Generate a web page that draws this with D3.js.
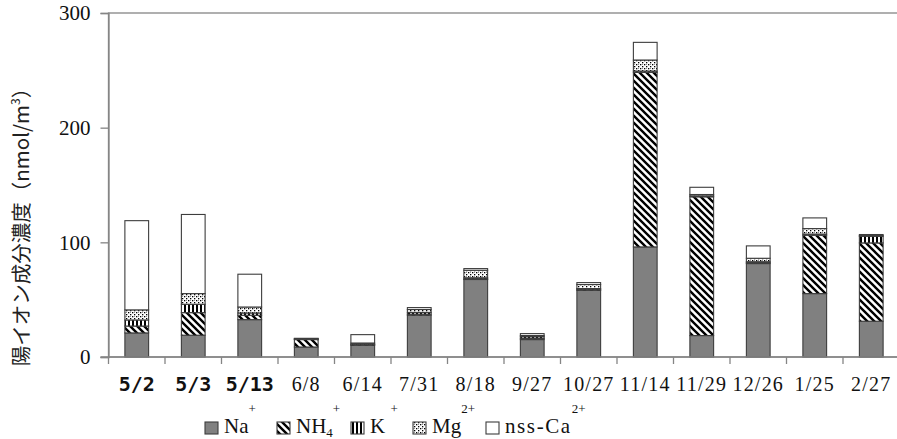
<!DOCTYPE html>
<html>
<head>
<meta charset="utf-8">
<script src="https://cdn.jsdelivr.net/npm/d3@7"></script>
<style>
  html, body { margin: 0; padding: 0; background: #fff; }
  svg { display: block; }
  svg text.serif { font-family: "Times New Roman", "Liberation Serif", Tinos, "DejaVu Serif", "Noto Serif", serif !important; }
</style>
</head>
<body>
<svg id="chart" width="897" height="439"></svg>
<script>
// Sampling dates (first three shown in bold)
const dates = ["5/2", "5/3", "5/13", "6/8", "6/14", "7/31", "8/18", "9/27", "10/27", "11/14", "11/29", "12/26", "1/25", "2/27"];
const boldDates = ["5/2", "5/3", "5/13"];

// Cation concentrations (nmol/m3), stacked bottom to top
const na  = [21.0, 19.0, 32.6, 8.7, 10.2, 36.4, 67.6, 15.2, 58.2, 96.0, 18.7, 81.5, 55.3, 31.2];
const nh4 = [6.0, 19.7, 3.8, 6.5, 0.5, 1.0, 0.5, 1.0, 0.5, 152.2, 121.0, 0.8, 50.9, 68.3];
const k   = [5.3, 7.3, 2.0, 0.4, 0.5, 1.5, 1.0, 1.5, 1.0, 1.2, 0.8, 0.8, 1.0, 5.8];
const mg  = [8.8, 9.3, 5.2, 0.4, 1.0, 2.5, 6.5, 1.0, 3.5, 9.6, 1.2, 3.0, 4.8, 0.5];
const ca  = [77.8, 69.0, 28.6, 0.3, 7.3, 1.7, 1.5, 1.7, 1.7, 15.4, 6.3, 10.8, 9.3, 1.0];

const yTicks = [0, 100, 200, 300];

const seriesKeys = ["na", "nh4", "k", "mg", "ca"];
const seriesData = { na, nh4, k, mg, ca };

const svg = d3.select("#chart");
const margin = { left: 108.5, top: 13, bottom: 357 };
const plotRight = 108.5 + 14 * 56.5;

const axisColor = "#858585";
const barStroke = "#3d3d3d";
const serifStack = '"Times New Roman", "Liberation Serif", Tinos, "DejaVu Serif", serif';

// Fill patterns
const defs = svg.append("defs");
const pDiag = defs.append("pattern").attr("id", "p-nh4").attr("patternUnits", "userSpaceOnUse")
  .attr("width", 7).attr("height", 7);
pDiag.append("rect").attr("width", 7).attr("height", 7).attr("fill", "#fff");
pDiag.append("path").attr("d", "M-2,-2 L9,9 M-9,-2 L2,9 M5,-2 L16,9")
  .attr("stroke", "#000").attr("stroke-width", 2.4);

const pVert = defs.append("pattern").attr("id", "p-k").attr("patternUnits", "userSpaceOnUse")
  .attr("width", 4).attr("height", 4);
pVert.append("rect").attr("width", 4).attr("height", 4).attr("fill", "#fff");
pVert.append("rect").attr("x", 0).attr("width", 2).attr("height", 4).attr("fill", "#000");

const pDot = defs.append("pattern").attr("id", "p-mg").attr("patternUnits", "userSpaceOnUse")
  .attr("width", 4).attr("height", 4);
pDot.append("rect").attr("width", 4).attr("height", 4).attr("fill", "#fff");
pDot.append("rect").attr("x", 0).attr("y", 0).attr("width", 1.3).attr("height", 1.3).attr("fill", "#000");
pDot.append("rect").attr("x", 2).attr("y", 2).attr("width", 1.3).attr("height", 1.3).attr("fill", "#000");
pDot.append("rect").attr("x", 2).attr("y", 0).attr("width", 0.8).attr("height", 0.8).attr("fill", "#555");

const fills = { na: "#808080", nh4: "url(#p-nh4)", k: "url(#p-k)", mg: "url(#p-mg)", ca: "#fff" };

// Scales
const x = d3.scaleBand().domain(dates).range([margin.left, plotRight]).paddingInner(0.58).paddingOuter(0.29);
const xEdge = d3.scaleBand().domain(dates).range([margin.left, plotRight]).padding(0);
const y = d3.scaleLinear().domain([0, 300]).range([margin.bottom, margin.top]);

// Plot frame (top and right edges)
svg.append("rect")
  .attr("x", margin.left).attr("y", y(300))
  .attr("width", plotRight - margin.left).attr("height", y(0) - y(300))
  .attr("fill", "none").attr("stroke", axisColor).attr("stroke-width", 1.3);

// Stacked bars
const rows = dates.map((d, i) => {
  const r = { date: d };
  seriesKeys.forEach(s => r[s] = seriesData[s][i]);
  return r;
});
const stacked = d3.stack().keys(seriesKeys)(rows);

svg.append("g").selectAll("g").data(stacked).join("g")
  .attr("fill", s => fills[s.key])
  .selectAll("rect").data(s => s).join("rect")
  .attr("x", d => x(d.data.date))
  .attr("width", x.bandwidth())
  .attr("y", d => y(d[1]))
  .attr("height", d => y(d[0]) - y(d[1]))
  .attr("stroke", barStroke).attr("stroke-width", 1.1);

// Y axis
const yAxis = svg.append("g").attr("transform", `translate(${margin.left},0)`)
  .call(d3.axisLeft(y).tickValues(yTicks).tickSize(8).tickPadding(10).tickFormat(d3.format("d")));
yAxis.attr("font-family", serifStack);
yAxis.select(".domain").attr("stroke", axisColor).attr("stroke-width", 1.3);
yAxis.selectAll(".tick line").attr("stroke", axisColor).attr("stroke-width", 1.3);
yAxis.selectAll(".tick text").attr("class", "serif").style("font-family", serifStack)
  .attr("font-size", 21).attr("fill", "#111");

// X axis line and boundary ticks
svg.append("line")
  .attr("x1", margin.left - 8).attr("x2", plotRight)
  .attr("y1", y(0)).attr("y2", y(0))
  .attr("stroke", axisColor).attr("stroke-width", 1.3);
svg.append("g").selectAll("line").data(dates).join("line")
  .attr("x1", d => xEdge(d)).attr("x2", d => xEdge(d))
  .attr("y1", y(0)).attr("y2", y(0) + 7)
  .attr("stroke", axisColor).attr("stroke-width", 1.3);

// X labels
svg.append("g").selectAll("text").data(dates).join("text")
  .attr("x", d => x(d) + x.bandwidth() / 2)
  .attr("y", 391)
  .attr("text-anchor", "middle")
  .attr("fill", "#111")
  .each(function (d) {
    const t = d3.select(this);
    if (boldDates.includes(d)) {
      t.attr("font-family", "'DejaVu Sans Mono', monospace").attr("font-weight", "bold")
        .attr("font-size", 20).text(d);
    } else {
      t.attr("class", "serif").style("font-family", serifStack)
        .attr("font-size", 20).attr("letter-spacing", 1.2).text(d);
    }
  });

// Y axis title
const yTitle = svg.append("text")
  .attr("transform", "translate(29,222) rotate(-90)")
  .attr("text-anchor", "middle")
  .attr("font-family", "'Noto Sans CJK JP', sans-serif")
  .attr("font-size", 20.5)
  .attr("fill", "#222");
yTitle.append("tspan").text("陽イオン成分濃度（nmol/m");
yTitle.append("tspan").attr("font-size", 12).attr("dy", -9).text("3");
yTitle.append("tspan").attr("dy", 9).text("）");

// Legend
const legendItems = [
  { key: "na",  x: 205, parts: [["Na", 0], ["+", -1]] },
  { key: "nh4", x: 277, parts: [["NH", 0], ["4", 1], ["+", -1]] },
  { key: "k",   x: 351, parts: [["K ", 0], ["+", -1]] },
  { key: "mg",  x: 413, parts: [["Mg", 0], ["2+", -1]] },
  { key: "ca",  x: 486, parts: [["nss-Ca", 0], ["2+", -1]] }
];
const shift = { "-1": -20, "0": 0, "1": 4 };
const legend = svg.append("g");
legendItems.forEach(it => {
  legend.append("rect")
    .attr("x", it.x).attr("y", 422).attr("width", 13).attr("height", 12)
    .attr("fill", fills[it.key]).attr("stroke", barStroke).attr("stroke-width", 1.1);
  const t = legend.append("text")
    .attr("class", "serif").style("font-family", serifStack)
    .attr("x", it.x + 19).attr("y", 433)
    .attr("font-size", 21).attr("fill", "#111");
  let level = 0;
  it.parts.forEach(([txt, lv]) => {
    const dy = shift[lv] - shift[level];
    const sp = t.append("tspan").attr("dy", dy).text(txt);
    if (lv !== 0) sp.attr("font-size", 13);
    if (it.key === "ca" && lv === 0) sp.attr("letter-spacing", 1.6);
    level = lv;
  });
});
</script>
</body>
</html>
